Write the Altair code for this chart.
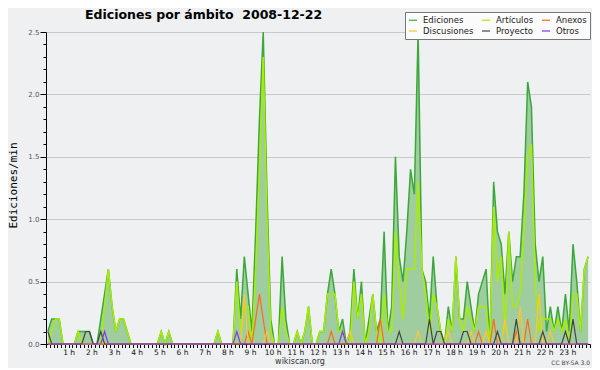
import altair as alt
import pandas as pd

TITLE = "Ediciones por ámbito\u00a0 2008-12-22"
Y_TITLE = "Ediciones/min"
FOOTER = "wikiscan.org"
LICENSE = "CC BY-SA 3.0"

SERIES = ["Ediciones", "Artículos", "Anexos", "Discusiones", "Proyecto", "Otros"]
COLORS = ["#3aa83a", "#a8ee00", "#ff6a1a", "#ffc62a", "#444444", "#8833ee"]
# legend is filled column by column: this order gives the reference's rows
LEGEND_ORDER = ["Ediciones", "Discusiones", "Artículos", "Proyecto", "Anexos", "Otros"]
AREA_FILL = "#9fcd9f"

# Ediciones/min per 10-minute bin (144 bins, 00:00 -> 24:00)
EDICIONES = (
    [0.1, 0.2, 0.2, 0.2, 0, 0, 0, 0, 0.1, 0.1, 0.1, 0.1]
    + [0, 0, 0.2, 0.4, 0.6, 0.3, 0.1, 0.2, 0.2, 0.1, 0, 0]
    + [0, 0, 0, 0, 0, 0, 0.1, 0, 0.1, 0, 0, 0]
    + [0, 0, 0, 0, 0, 0, 0, 0, 0, 0.1, 0, 0]
    + [0, 0, 0.6, 0.2, 0.7, 0.4, 0.1, 0.9, 1.8, 2.5, 1.2, 0.2]
    + [0, 0, 0.7, 0.2, 0, 0, 0.1, 0, 0.1, 0.3, 0, 0]
    + [0.1, 0.1, 0.4, 0.6, 0.4, 0.1, 0.2, 0, 0.1, 0.6, 0.2, 0.5]
    + [0, 0.2, 0.4, 0.1, 0.2, 0.9, 0.1, 0.3, 1.5, 0.7, 0.5, 0.9]
    + [1.4, 1.2, 2.5, 0.6, 0.5, 0.2, 0.7, 0.3, 0.1, 0, 0.3, 0.1]
    + [0.7, 0.2, 0.2, 0.5, 0.3, 0.1, 0.4, 0.5, 0.6, 0, 1.3, 0.9]
    + [0.8, 0.4, 0.9, 0.5, 0.7, 0.7, 1.2, 2.1, 1.9, 0.8, 0.5, 0.7]
    + [0.1, 0.3, 0.1, 0.3, 0.1, 0.4, 0.1, 0.8, 0.5, 0.1, 0.6, 0.7]
)
ARTICULOS = (
    [0, 0.1, 0.2, 0.2, 0, 0, 0, 0, 0.1, 0, 0, 0]
    + [0, 0, 0, 0.3, 0.6, 0.3, 0.1, 0.2, 0.2, 0.1, 0, 0]
    + [0, 0, 0, 0, 0, 0, 0.1, 0, 0.1, 0, 0, 0]
    + [0, 0, 0, 0, 0, 0, 0, 0, 0, 0.1, 0, 0]
    + [0, 0, 0.5, 0.1, 0.3, 0.3, 0, 0.6, 1.4, 2.3, 1.0, 0.1]
    + [0, 0, 0.3, 0.1, 0, 0, 0.1, 0, 0.1, 0.3, 0, 0]
    + [0.1, 0.1, 0.4, 0.4, 0.4, 0.1, 0.1, 0, 0, 0.5, 0.2, 0.4]
    + [0, 0.1, 0.4, 0.1, 0, 0.4, 0.1, 0.1, 0.9, 0.5, 0.2, 0.6]
    + [0.6, 0.6, 1.3, 0.6, 0.4, 0.1, 0.4, 0.3, 0.1, 0, 0.2, 0.1]
    + [0.7, 0.2, 0.1, 0.3, 0.2, 0.1, 0.3, 0.3, 0.3, 0, 1.1, 0.5]
    + [0.7, 0.1, 0.9, 0.3, 0.3, 0.4, 0.9, 1.5, 1.6, 0.5, 0.1, 0.2]
    + [0.2, 0.2, 0.1, 0.2, 0.1, 0.2, 0, 0.4, 0.4, 0.1, 0.6, 0.7]
)
ANEXOS = (
    [0] * 48
    + [0, 0, 0, 0, 0, 0.1, 0, 0.2, 0.4, 0.2, 0, 0]
    + [0] * 12
    + [0, 0, 0, 0.1, 0, 0, 0, 0, 0, 0, 0, 0]
    + [0, 0, 0, 0, 0.2, 0, 0, 0, 0, 0, 0, 0]
    + [0] * 12
    + [0, 0, 0, 0, 0, 0, 0.1, 0, 0, 0, 0.2, 0]
    + [0, 0, 0, 0, 0.1, 0, 0, 0.2, 0, 0, 0, 0]
    + [0] * 12
)
DISCUSIONES = (
    [0] * 48
    + [0, 0, 0, 0, 0.4, 0, 0, 0, 0, 0, 0.1, 0]
    + [0] * 12
    + [0, 0, 0, 0, 0, 0, 0, 0, 0.1, 0, 0, 0]
    + [0] * 12
    + [0, 0, 0.1, 0, 0, 0, 0, 0, 0, 0, 0.1, 0]
    + [0, 0, 0, 0, 0.1, 0, 0, 0, 0.1, 0, 0, 0]
    + [0, 0.2, 0, 0, 0, 0.3, 0, 0, 0, 0, 0.4, 0]
    + [0, 0.1, 0, 0, 0, 0, 0, 0, 0, 0, 0, 0]
)
PROYECTO = (
    [0.1, 0, 0, 0, 0, 0, 0, 0, 0, 0, 0.1, 0.1]
    + [0, 0, 0.1, 0, 0, 0, 0, 0, 0, 0, 0, 0]
    + [0] * 60
    + [0, 0, 0, 0, 0, 0, 0, 0, 0, 0.1, 0, 0]
    + [0, 0, 0, 0, 0, 0.2, 0, 0.1, 0.1, 0, 0, 0]
    + [0, 0, 0.1, 0.1, 0, 0, 0, 0, 0, 0, 0, 0.1]
    + [0, 0, 0, 0, 0.2, 0, 0, 0, 0, 0, 0, 0.1]
    + [0, 0, 0, 0, 0, 0.1, 0, 0.2, 0, 0, 0, 0]
)
OTROS = (
    [0] * 12
    + [0, 0, 0, 0.1, 0, 0, 0, 0, 0, 0, 0, 0]
    + [0] * 24
    + [0, 0, 0.1, 0, 0, 0, 0, 0, 0, 0, 0, 0]
    + [0] * 12
    + [0, 0, 0, 0, 0, 0, 0.1, 0, 0, 0, 0, 0]
    + [0] * 60
)

VALUES = [EDICIONES, ARTICULOS, ANEXOS, DISCUSIONES, PROYECTO, OTROS]
rows = []
for name, vals in zip(SERIES, VALUES):
    for i, v in enumerate(vals):
        rows.append({"hora": (i + 0.5) / 6, "valor": v, "serie": name})
df = pd.DataFrame(rows)

color_of = dict(zip(SERIES, COLORS))

HALF_TEST = "abs(datum.value * 2 - round(datum.value * 2)) < 0.001"

x_axis = alt.Axis(
    values=[k / 6 for k in range(145)],
    labelExpr="abs(datum.value - round(datum.value)) < 0.001 && datum.value > 0.5 && datum.value < 23.5 ? round(datum.value) + ' h' : ''",
    labelOverlap=False,
    labelFlush=False,
    tickSize=3.5,
    tickColor="black",
    domainColor="black",
    grid=False,
    labelFont="DejaVu Sans",
    labelFontSize=7.5,
    labelColor="#111111",
    labelPadding=1,
    title=None,
)
y_axis = alt.Axis(
    values=[round(k / 10, 1) for k in range(26)],
    labelExpr=HALF_TEST + " ? format(datum.value, '.1f') : ''",
    labelOverlap=False,
    tickSize={"condition": {"test": HALF_TEST, "value": 6}, "value": 3},
    tickColor="black",
    domainColor="black",
    grid=True,
    gridColor="#c9c9c9",
    gridOpacity={"condition": {"test": HALF_TEST + " && datum.value > 0.01", "value": 1}, "value": 0},
    labelFont="DejaVu Sans",
    labelFontSize=7,
    labelColor="#555555",
    labelPadding=1,
    title=Y_TITLE,
    titleFont="DejaVu Sans Mono",
    titleFontSize=11,
    titleFontWeight="normal",
    titleColor="black",
    titleX=-28,
    titleY=153,
)

x = alt.X("hora:Q", scale=alt.Scale(domain=[0, 24], nice=False, zero=False), axis=x_axis)
y = alt.Y("valor:Q", scale=alt.Scale(domain=[0, 2.5], nice=False), axis=y_axis)
color = alt.Color(
    "serie:N",
    scale=alt.Scale(domain=LEGEND_ORDER, range=[color_of[s] for s in LEGEND_ORDER]),
    legend=alt.Legend(
        title=None,
        orient="none",
        legendX=359,
        legendY=-20,
        columns=3,
        symbolType="stroke",
        symbolSize=64,
        symbolStrokeWidth=1.2,
        labelFont="DejaVu Sans",
        labelFontSize=8.5,
        labelColor="#222222",
        labelOffset=5,
        columnPadding=5,
        rowPadding=1,
        padding=3,
        fillColor="#fbfbfb",
        strokeColor="#777777",
    ),
)

base = alt.Chart(df)
area = base.transform_filter(alt.datum.serie == "Ediciones").mark_area(
    color=AREA_FILL, opacity=1
).encode(x=x, y=y)

layers = [area]
for name in SERIES:
    sw = 1.5 if name in ("Ediciones", "Artículos") else 1.2
    layers.append(
        base.transform_filter(alt.datum.serie == name)
        .mark_line(strokeWidth=sw)
        .encode(x=x, y=y, color=color)
    )

title_df = pd.DataFrame({"t": [TITLE]})
footer_df = pd.DataFrame({"t": [FOOTER]})
license_df = pd.DataFrame({"t": [LICENSE]})

title_text = alt.Chart(title_df).mark_text(
    font="DejaVu Sans", fontSize=12.5, fontWeight="bold", align="left", baseline="alphabetic", color="black"
).encode(text="t:N", x=alt.value(39), y=alt.value(-13))
footer_text = alt.Chart(footer_df).mark_text(
    font="DejaVu Sans", fontSize=8, align="center", baseline="alphabetic", color="#333333"
).encode(text="t:N", x=alt.value(254), y=alt.value(332))
license_text = alt.Chart(license_df).mark_text(
    font="DejaVu Sans", fontSize=6, align="right", baseline="alphabetic", color="#444444"
).encode(text="t:N", x=alt.value(544), y=alt.value(333))

chart = (
    alt.layer(*layers, title_text, footer_text, license_text)
    .properties(
        width=544,
        height=312,
        padding={"left": 38, "top": 24, "right": 2, "bottom": 24},
        autosize=alt.AutoSizeParams(type="none"),
        background="#eef0f1",
    )
    .configure_view(strokeWidth=0)
)

chart.save("out.html", embed_options={"renderer": "svg", "actions": False})
